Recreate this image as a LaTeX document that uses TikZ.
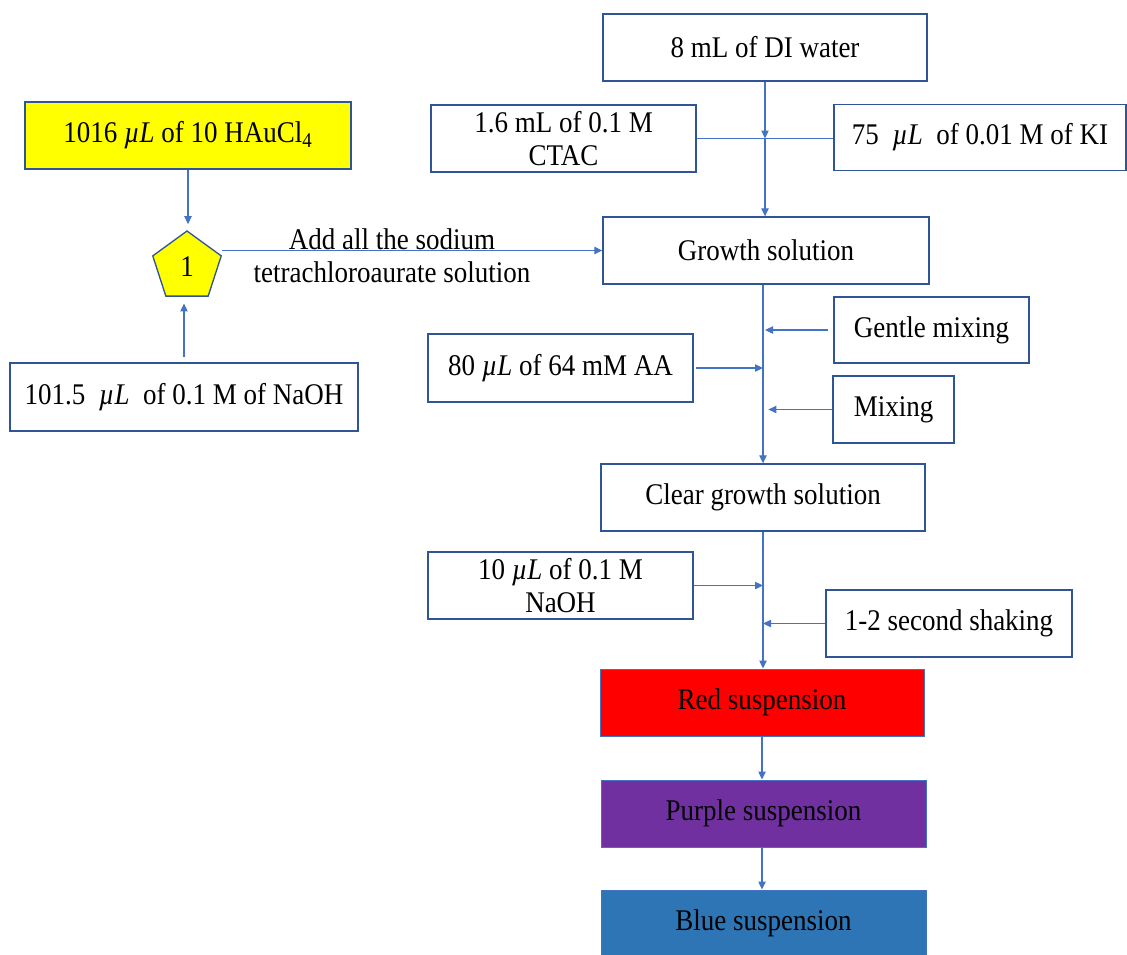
\documentclass[tikz,border=0pt]{standalone}
\usepackage{fontspec}
\setmainfont{Liberation Serif}[FakeStretch=0.9]
\usetikzlibrary{arrows.meta,shapes.geometric}
\definecolor{bord}{HTML}{2F5597}
\definecolor{arrc}{HTML}{4472C4}
\definecolor{fyel}{HTML}{FFFF00}
\definecolor{fred}{HTML}{FF0000}
\definecolor{fpur}{HTML}{7030A0}
\definecolor{fblu}{HTML}{2E75B6}
\tikzset{
  txt/.style={font=\fontsize{22.5pt}{24.75pt}\selectfont, text=black, align=center},
  box/.style={txt, draw=bord, line width=1pt, inner sep=0pt, minimum height=50.25pt},
  cbox/.style={box, draw=arrc, line width=0.7pt},
  arr/.style={draw=arrc, line width=0.9pt, -{Triangle[length=6pt,width=5.5pt]}},
  ln/.style={draw=arrc, line width=0.9pt},
}
\newcommand{\uL}{\textit{µL}}
\begin{document}
\begin{tikzpicture}[x=0.75pt,y=-0.75pt]
\useasboundingbox (0,0) rectangle (1127,954);
% left part
\node[box, fill=fyel, minimum width=244.5pt] (hau) at (188,135.5) {1016 \uL{} of 10 HAuCl\textsubscript{4}};
\node[box, minimum width=261pt, minimum height=51pt] (naoha) at (184,397) {101.5\ \ \uL\ \ of 0.1 M of NaOH};
\node[txt, draw=bord, line width=1pt, fill=fyel, regular polygon, regular polygon sides=5, minimum size=54pt, inner sep=0pt] (pent) at (187,267) {\raisebox{-3pt}{1}};
\node[txt, inner sep=0pt] (lab) at (392,255.5) {Add all the sodium\\tetrachloroaurate solution};
% right column
\node[box, minimum width=243pt] (di) at (765,47.5) {8 mL of DI water};
\node[box, minimum width=198.75pt] (ctac) at (563.5,138.5) {1.6 mL of 0.1 M\\CTAC};
\node[box, minimum width=219pt, minimum height=49.5pt] (ki) at (980,137.5) {75\ \ \uL\ \ of 0.01 M of KI};
\node[box, minimum width=244.5pt] (grow) at (766,250.5) {Growth solution};
\node[box, minimum width=146.25pt, minimum height=49.5pt] (gentle) at (931.5,330) {Gentle mixing};
\node[box, minimum width=198.75pt, minimum height=51pt] (aa) at (560.5,368) {80 \uL{} of 64 mM AA};
\node[box, minimum width=90.75pt] (mix) at (893.5,409.5) {Mixing};
\node[box, minimum width=243pt] (clear) at (763,497.5) {Clear growth solution};
\node[box, minimum width=198.75pt] (naohb) at (560.5,585.5) {10 \uL{} of 0.1 M\\NaOH};
\node[box, minimum width=184.5pt] (shake) at (949,623.5) {1-2 second shaking};
\node[cbox, fill=fred, minimum width=243pt] (red) at (762,702.5) {Red suspension};
\node[cbox, fill=fpur, minimum width=243.75pt] (purple) at (763.5,813.5) {Purple suspension};
\node[cbox, fill=fblu, minimum width=243.75pt] (blue) at (763.5,923.5) {Blue suspension};
\coordinate (j1) at (di.south |- ctac.east);
% connectors left
\draw[arr, shorten >=4.5pt] (hau.south) -- (hau.south |- pent.corner 1);
\draw[arr, shorten <=4pt, shorten >=5pt] (naoha.north) -- (naoha.north |- pent.south);
\draw[arr] (pent.corner 5 |- grow.west) -- (grow.west);
% connectors right
\draw[arr] (di.south) -- (j1);
\draw[ln] (ctac.east) -- (ctac.east -| ki.west);
\draw[arr] (j1) -- (j1 |- grow.north);
\draw[arr] (clear.north |- grow.south) -- (clear.north);
\draw[arr, shorten <=4pt, shorten >=1.5pt] (gentle.west) -- (clear.north |- gentle.west);
\draw[arr, shorten <=2pt] (aa.east) -- (clear.north |- aa.east);
\draw[arr, shorten >=4pt] (mix.west) -- (clear.north |- mix.west);
\draw[arr] (clear.south) -- (clear.south |- red.north);
\draw[arr] (naohb.east) -- (clear.south |- naohb.east);
\draw[arr] (shake.west) -- (clear.south |- shake.west);
\draw[arr] (red.south) -- (red.south |- purple.north);
\draw[arr] (red.south |- purple.south) -- (red.south |- blue.north);
\end{tikzpicture}
\end{document}
